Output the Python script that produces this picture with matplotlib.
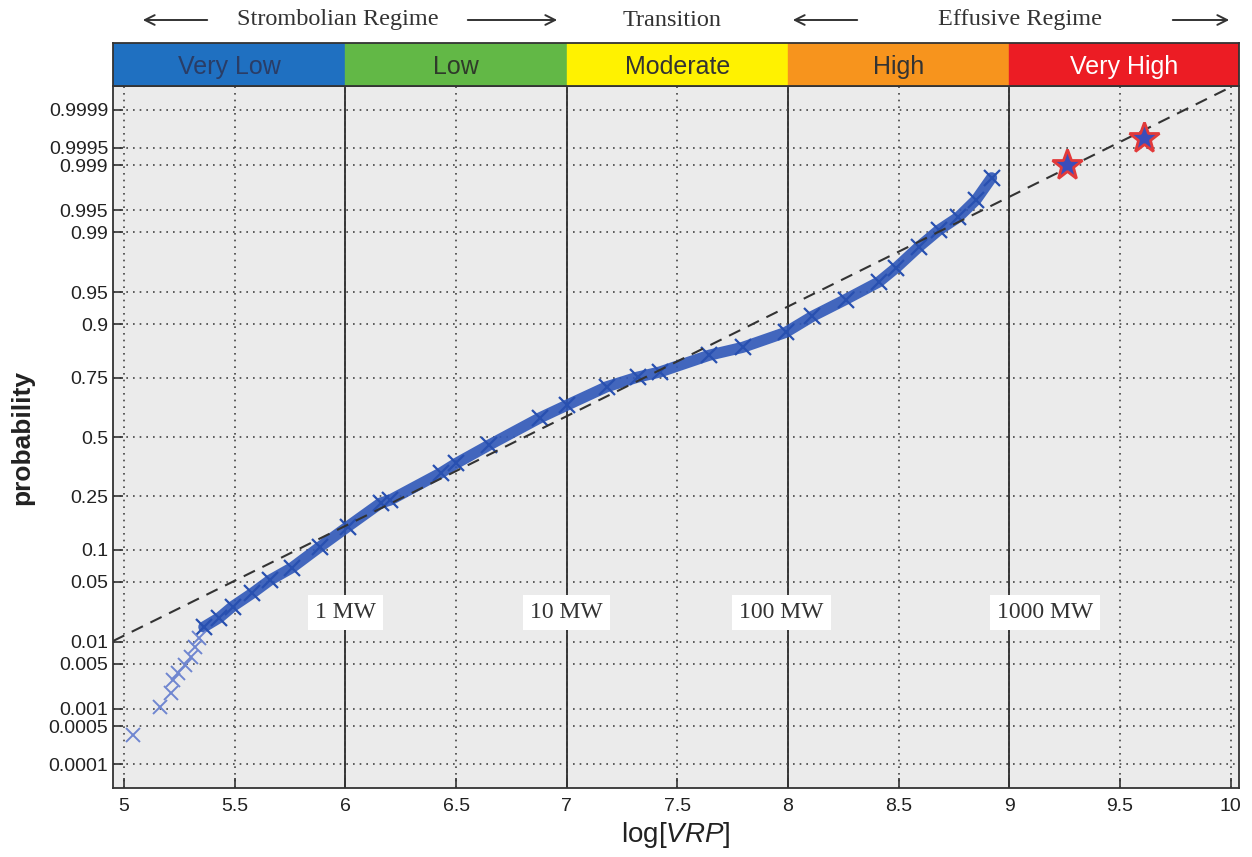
"""Normal probability plot of log[VRP] with alert-level band on top."""
import math

import matplotlib
matplotlib.use("Agg")
import matplotlib.pyplot as plt
import numpy as np

plt.rcParams["font.family"] = ["Liberation Sans", "DejaVu Sans"]
plt.rcParams["mathtext.fontset"] = "custom"
plt.rcParams["mathtext.it"] = "Liberation Sans:italic"
plt.rcParams["mathtext.rm"] = "Liberation Sans"

# --- data ---------------------------------------------------------------
# sparse lower tail (individual markers)
tail_x = [5.04, 5.16, 5.21, 5.22, 5.245, 5.275, 5.30, 5.32, 5.34]
tail_p = [0.00035, 0.00107, 0.0018, 0.0029, 0.0036, 0.0048, 0.0062, 0.0084, 0.0113]

# dense body of the distribution
body_x = [5.36, 5.43, 5.49, 5.58, 5.66, 5.76, 5.885, 6.01, 6.16, 6.20, 6.43,
          6.50, 6.65, 6.88, 7.00, 7.18, 7.32, 7.42, 7.645, 7.795, 7.99, 8.11,
          8.26, 8.41, 8.49, 8.59, 8.68, 8.77, 8.85, 8.92]
body_p = [0.0154, 0.020, 0.027, 0.038, 0.052, 0.069, 0.106, 0.154, 0.227, 0.236,
          0.341, 0.382, 0.464, 0.587, 0.641, 0.716, 0.752, 0.770, 0.824, 0.846,
          0.883, 0.915, 0.941, 0.961, 0.973, 0.9846, 0.9906, 0.9938, 0.9965, 0.9984]

# extreme events (stars)
star_x = [9.26, 9.61]
star_p = [0.999, 0.99966]

# reference normal fit (dashed line)
fit_mu, fit_sigma = 6.81, 0.802

prob_ticks = [0.0001, 0.0005, 0.001, 0.005, 0.01, 0.05, 0.1, 0.25, 0.5, 0.75,
              0.9, 0.95, 0.99, 0.995, 0.999, 0.9995, 0.9999]
prob_labels = ["0.0001", "0.0005", "0.001", "0.005", "0.01", "0.05", "0.1",
               "0.25", "0.5", "0.75", "0.9", "0.95", "0.99", "0.995", "0.999",
               "0.9995", "0.9999"]

levels = ["Very Low", "Low", "Moderate", "High", "Very High"]
level_edges = [4.95, 6, 7, 8, 9, 10.04]
level_colors = ["#1f70c1", "#62b846", "#fff200", "#f7941d", "#ec1c24"]
level_text = ["#2a3d66", "#2f3a2a", "#333333", "#333333", "#ffffff"]

mw_labels = ["1 MW", "10 MW", "100 MW", "1000 MW"]
mw_x = [6.0, 7.0, 7.97, 9.16]
mw_p = 0.023


# --- probit scale ---------------------------------------------------------
def norm_cdf(z):
    z = np.asarray(z, dtype=float)
    return 0.5 * (1.0 + np.vectorize(math.erf)(z / math.sqrt(2.0)))


def probit(p):
    """Acklam's rational approximation of the inverse normal CDF."""
    p = np.clip(np.asarray(p, dtype=float), 1e-12, 1 - 1e-12)
    a = [-3.969683028665376e+01, 2.209460984245205e+02, -2.759285104469687e+02,
         1.383577518672690e+02, -3.066479806614716e+01, 2.506628277459239e+00]
    b = [-5.447609879822406e+01, 1.615858368580409e+02, -1.556989798598866e+02,
         6.680131188771972e+01, -1.328068155288572e+01]
    c = [-7.784894002430293e-03, -3.223964580411365e-01, -2.400758277161838e+00,
         -2.549732539343734e+00, 4.374664141464968e+00, 2.938163982698783e+00]
    d = [7.784695709041462e-03, 3.224671290700398e-01, 2.445134137142996e+00,
         3.754408661907416e+00]
    plow = 0.02425
    out = np.empty_like(p)
    lo = p < plow
    hi = p > 1 - plow
    mid = ~(lo | hi)
    q = np.sqrt(-2 * np.log(p[lo]))
    out[lo] = (((((c[0]*q+c[1])*q+c[2])*q+c[3])*q+c[4])*q+c[5]) / \
              ((((d[0]*q+d[1])*q+d[2])*q+d[3])*q+1)
    q = np.sqrt(-2 * np.log(1 - p[hi]))
    out[hi] = -(((((c[0]*q+c[1])*q+c[2])*q+c[3])*q+c[4])*q+c[5]) / \
               ((((d[0]*q+d[1])*q+d[2])*q+d[3])*q+1)
    q = p[mid] - 0.5
    r = q * q
    out[mid] = (((((a[0]*r+a[1])*r+a[2])*r+a[3])*r+a[4])*r+a[5])*q / \
               (((((b[0]*r+b[1])*r+b[2])*r+b[3])*r+b[4])*r+1)
    return out


# --- figure ---------------------------------------------------------------
fig = plt.figure(figsize=(12.52, 8.57), dpi=100)
ax = fig.add_axes([0.0903, 0.0805, 0.8997, 0.8191])
ax.set_facecolor("#ebebeb")
ax.set_yscale("function", functions=(probit, norm_cdf))
ax.set_xlim(level_edges[0], level_edges[-1])
ax.set_ylim(float(norm_cdf(-3.99)), float(norm_cdf(3.99)))

ax.set_xticks(np.arange(5, 10.01, 0.5))
ax.set_xticklabels([f"{v:g}" for v in np.arange(5, 10.01, 0.5)])
ax.set_yticks(prob_ticks)
ax.set_yticklabels(prob_labels)
ax.minorticks_off()
ax.tick_params(direction="in", length=7, width=1.2, colors="#333333",
               labelsize=14, labelcolor="#222222")
ax.tick_params(axis="x", pad=7)
ax.grid(True, linestyle=(0, (1, 3)), color="#444444", linewidth=1.2)
for v in level_edges[1:-1]:
    ax.axvline(v, color="#333333", linewidth=1.4, zorder=1.5)
for s in ax.spines.values():
    s.set_color("#333333")
    s.set_linewidth(1.3)

# fit line
xf = np.array(ax.get_xlim())
ax.plot(xf, norm_cdf((xf - fit_mu) / fit_sigma), color="#333333",
        linestyle=(0, (6, 4)), linewidth=1.5, zorder=4)

# data
ax.plot(body_x, body_p, color="#3058b8", linewidth=8, alpha=0.9,
        solid_capstyle="round", zorder=3)
ax.plot(body_x, body_p, "x", color="#2850b0", markersize=11, mew=1.6, zorder=3)
ax.plot(tail_x, tail_p, "x", color="#6f86d0", markersize=10, mew=1.4, zorder=3)
ax.plot(star_x, star_p, "*", markersize=23, mfc="#3b4dbb", mec="#e23a3a",
        mew=2, zorder=5)

for lab, xv in zip(mw_labels, mw_x):
    ax.text(xv, mw_p, lab, ha="center", va="center", fontsize=17,
            family=["Liberation Serif", "DejaVu Serif"], color="#333333",
            bbox=dict(boxstyle="square,pad=0.3", fc="white", ec="none"),
            zorder=6)

ax.set_xlabel(r"log[$\it{VRP}$]", fontsize=20, color="#222222", labelpad=4)
ax.set_ylabel("probability", fontsize=19, fontweight="bold", color="#222222",
              labelpad=10)

# alert-level band
band = fig.add_axes([0.0903, 0.8996, 0.8997, 0.0502])
band.set_xlim(level_edges[0], level_edges[-1])
band.set_ylim(0, 1)
for i, lab in enumerate(levels):
    band.axvspan(level_edges[i], level_edges[i + 1], color=level_colors[i])
    band.text((level_edges[i] + level_edges[i + 1]) / 2, 0.45, lab,
              ha="center", va="center", fontsize=18, color=level_text[i])
band.set_xticks([])
band.set_yticks([])
for s in band.spines.values():
    s.set_color("#333333")
    s.set_linewidth(1.3)

# regime headers
serif = ["Liberation Serif", "DejaVu Serif"]
hy = 1 - 20 / 857
fig.text(338 / 1252, hy, "Strombolian Regime", ha="center", va="center",
         fontsize=17.5, family=serif, color="#333333")
fig.text(672 / 1252, hy, "Transition", ha="center", va="center",
         fontsize=17.5, family=serif, color="#333333")
fig.text(1020 / 1252, hy, "Effusive Regime", ha="center", va="center",
         fontsize=17.5, family=serif, color="#333333")
for x0, x1 in [(210, 140), (465, 560), (860, 790), (1170, 1232)]:
    fig.add_artist(matplotlib.patches.FancyArrowPatch(
        (x0 / 1252, hy), (x1 / 1252, hy), transform=fig.transFigure,
        arrowstyle="->,head_length=7,head_width=3.5", color="#333333",
        linewidth=1.4, mutation_scale=1))

fig.savefig("out.png", dpi=100)
plt.close(fig)
